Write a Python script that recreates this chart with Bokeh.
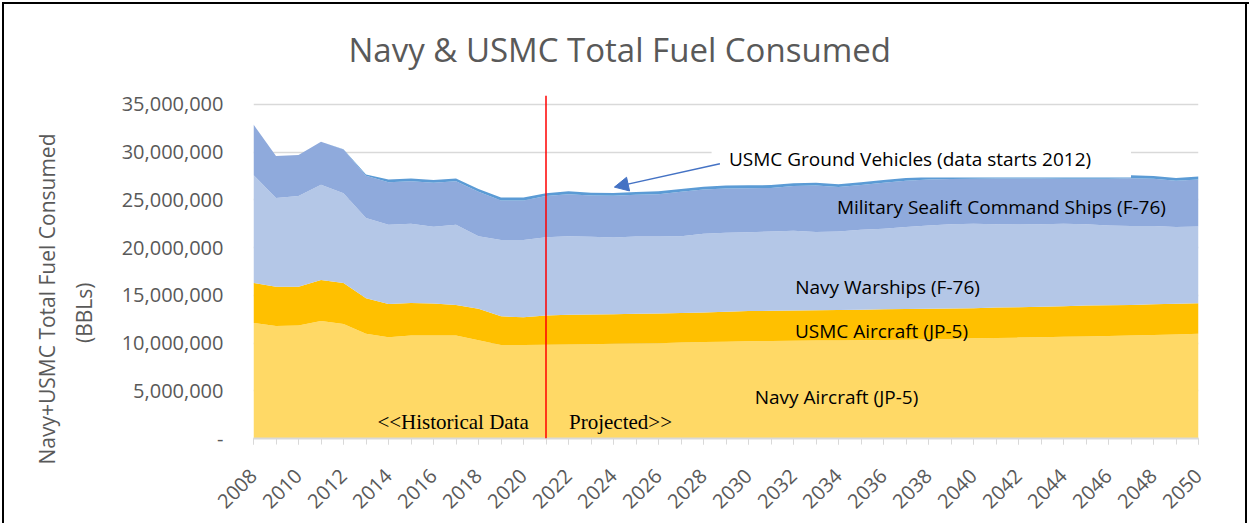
from math import pi
from bokeh.plotting import figure
from bokeh.models import (ColumnDataSource, FixedTicker, NumeralTickFormatter, Label,
                          Arrow, NormalHead, BoxAnnotation, Title)
from bokeh.embed import file_html
from bokeh.resources import INLINE

# ---------------- data (millions of barrels) ----------------
years = list(range(2008, 2051))

navy_aircraft = [12.1, 11.8, 11.85, 12.3, 12.0, 10.97, 10.6, 10.8, 10.8, 10.8,
                 10.3, 9.8, 9.8, 9.83, 9.85, 9.88, 9.92, 9.95, 9.99, 10.05,
                 10.1, 10.15, 10.2, 10.22, 10.24, 10.26, 10.28, 10.3, 10.33, 10.36,
                 10.39, 10.42, 10.5, 10.53, 10.57, 10.6, 10.65, 10.7, 10.75, 10.8,
                 10.85, 10.9, 10.97]

usmc_aircraft = [4.2, 4.1, 4.05, 4.3, 4.3, 3.73, 3.5, 3.4, 3.35, 3.2,
                 3.3, 3.0, 2.9, 3.06, 3.11, 3.12, 3.11, 3.11, 3.11, 3.10,
                 3.10, 3.13, 3.15, 3.16, 3.16, 3.17, 3.18, 3.19, 3.20, 3.21,
                 3.21, 3.21, 3.16, 3.19, 3.19, 3.20, 3.22, 3.24, 3.22, 3.20,
                 3.21, 3.22, 3.21]

navy_warships = [11.3, 9.3, 9.5, 10.0, 9.4, 8.4, 8.3, 8.3, 8.05, 8.4,
                 7.6, 8.0, 8.1, 8.21, 8.24, 8.14, 8.04, 8.11, 8.07, 8.05,
                 8.25, 8.28, 8.27, 8.32, 8.37, 8.2, 8.24, 8.39, 8.45, 8.58,
                 8.73, 8.83, 8.84, 8.74, 8.67, 8.66, 8.63, 8.52, 8.36, 8.26,
                 8.2, 8.03, 8.04]

msc_ships = [5.3, 4.4, 4.3, 4.5, 4.58, 4.42, 4.45, 4.45, 4.6, 4.55,
             4.65, 4.15, 4.15, 4.3, 4.4, 4.31, 4.36, 4.36, 4.43, 4.65,
             4.64, 4.64, 4.61, 4.55, 4.68, 4.88, 4.65, 4.67, 4.81, 4.85,
             4.82, 4.74, 4.73, 4.79, 4.82, 4.79, 4.73, 4.77, 4.88, 5.02,
             4.95, 4.85, 4.93]

ground_vehicles = [0.0, 0.0, 0.0, 0.0, 0.02, 0.15, 0.3, 0.3, 0.29, 0.3,
                   0.3, 0.3, 0.3, 0.3, 0.3, 0.3, 0.3, 0.3, 0.3, 0.3,
                   0.3, 0.3, 0.3, 0.3, 0.3, 0.3, 0.3, 0.3, 0.3, 0.3,
                   0.3, 0.3, 0.3, 0.3, 0.3, 0.3, 0.3, 0.3, 0.3, 0.3,
                   0.3, 0.3, 0.3]

series_names = ["navy_aircraft", "usmc_aircraft", "navy_warships", "msc_ships", "ground_vehicles"]
series_colors = ["#FFD966", "#FFC000", "#B4C7E7", "#8FAADC", "#5B9BD5"]

y_ticks = [0, 5e6, 10e6, 15e6, 20e6, 25e6, 30e6, 35e6]
x_label_years = list(range(2008, 2051, 2))

src = ColumnDataSource(dict(
    year=years,
    navy_aircraft=[v * 1e6 for v in navy_aircraft],
    usmc_aircraft=[v * 1e6 for v in usmc_aircraft],
    navy_warships=[v * 1e6 for v in navy_warships],
    msc_ships=[v * 1e6 for v in msc_ships],
    ground_vehicles=[v * 1e6 for v in ground_vehicles],
))

GREY = "#595959"

# ---------------- figure ----------------
p = figure(width=1249, height=523, output_backend="svg", toolbar_location=None,
           x_range=(2008, 2050), y_range=(0, 35.94e6),
           min_border_left=253, min_border_right=51, min_border_top=95, min_border_bottom=85,
           background_fill_color="white", border_fill_color=None)
p.outline_line_color = None
# chart-area frame (left, top, right edges; bottom is cropped in the original)
p.styles = {"box-shadow": "inset 2px 2px 0 0 #ffffff, inset 4px 4px 0 0 #000000, "
                          "inset -2px 0 0 0 #ffffff, inset -4px 0 0 0 #000000"}

p.varea_stack(stackers=series_names, x="year", color=series_colors, source=src)

# grid
p.xgrid.grid_line_color = None
p.ygrid.grid_line_color = "#D9D9D9"
p.ygrid.grid_line_width = 1.3
p.ygrid.ticker = FixedTicker(ticks=y_ticks)

# y axis
yax = p.yaxis[0]
yax.ticker = FixedTicker(ticks=y_ticks)
yax.formatter = NumeralTickFormatter(format="0,0")
yax.major_label_overrides = {0: "-"}
yax.axis_line_color = None
yax.major_tick_line_color = None
yax.minor_tick_line_color = None
yax.major_tick_out = 0
yax.major_label_standoff = 30
yax.major_label_text_font = "Open Sans"
yax.major_label_text_font_size = "20px"
yax.major_label_text_color = GREY

# x axis
xax = p.xaxis[0]
xax.ticker = FixedTicker(ticks=x_label_years, minor_ticks=years)
xax.axis_line_color = "#D9D9D9"
xax.axis_line_width = 2
xax.major_tick_line_color = "#D9D9D9"
xax.minor_tick_line_color = "#D9D9D9"
xax.major_tick_in = 0
xax.minor_tick_in = 0
xax.major_tick_out = 6
xax.minor_tick_out = 6
xax.major_label_orientation = pi / 4
xax.major_label_standoff = 28
xax.major_label_text_font = "Open Sans"
xax.major_label_text_font_size = "20px"
xax.major_label_text_color = GREY

# titles
p.add_layout(Title(text="Navy & USMC Total Fuel Consumed", align="left", offset=95,
                   text_font="Open Sans", text_font_size="33px", text_font_style="normal",
                   text_color=GREY, standoff=48), "above")

def side_title(text, offset, standoff):
    kw = dict(text=text, align="right", offset=offset, vertical_align="middle",
              text_font="Open Sans", text_font_size="21px", text_font_style="normal",
              text_color=GREY)
    try:
        return Title(standoff=standoff, **kw)
    except Exception:
        return Title(standoff=0, **kw)

p.add_layout(side_title("(BBLs)", 187, 40), "left")
p.add_layout(side_title("Navy+USMC Total Fuel Consumed", 38, -26), "left")

# white box behind ground-vehicle note
p.add_layout(BoxAnnotation(left=2028.36, right=2047.0, bottom=27.36e6, top=31.2e6,
                           fill_color="white", fill_alpha=1.0, line_color=None))

# red divider
p.add_layout(Arrow(end=None, x_start=2021, y_start=0, x_end=2021, y_end=35.94e6,
                   line_color="#FF0000", line_width=1.5))

# arrow to ground vehicles
p.add_layout(Arrow(end=NormalHead(size=14, fill_color="#4472C4", line_color="#4472C4"),
                   x_start=2028.73, y_start=28.79e6, x_end=2024.04, y_end=26.34e6,
                   line_color="#4472C4", line_width=1.5))

def add_label(x, y, text, font="Open Sans", size="19px", color="#000000"):
    p.add_layout(Label(x=x, y=y, text=text, text_font=font, text_font_size=size,
                       text_color=color, text_align="center", text_baseline="middle"))

add_label(2037.29, 29.32e6, "USMC Ground  Vehicles (data starts 2012)")
add_label(2041.24, 24.25e6, "Military Sealift Command Ships (F-76)")
add_label(2036.18, 15.86e6, "Navy Warships (F-76)")
add_label(2035.91, 11.25e6, "USMC Aircraft (JP-5)")
add_label(2033.91, 4.33e6, "Navy Aircraft (JP-5)")
add_label(2016.87, 1.71e6, "<<Historical Data", font="Liberation Serif", size="21px")
add_label(2024.31, 1.71e6, "Projected>>", font="Liberation Serif", size="21px")

open("out.html", "w").write(file_html(p, INLINE))
